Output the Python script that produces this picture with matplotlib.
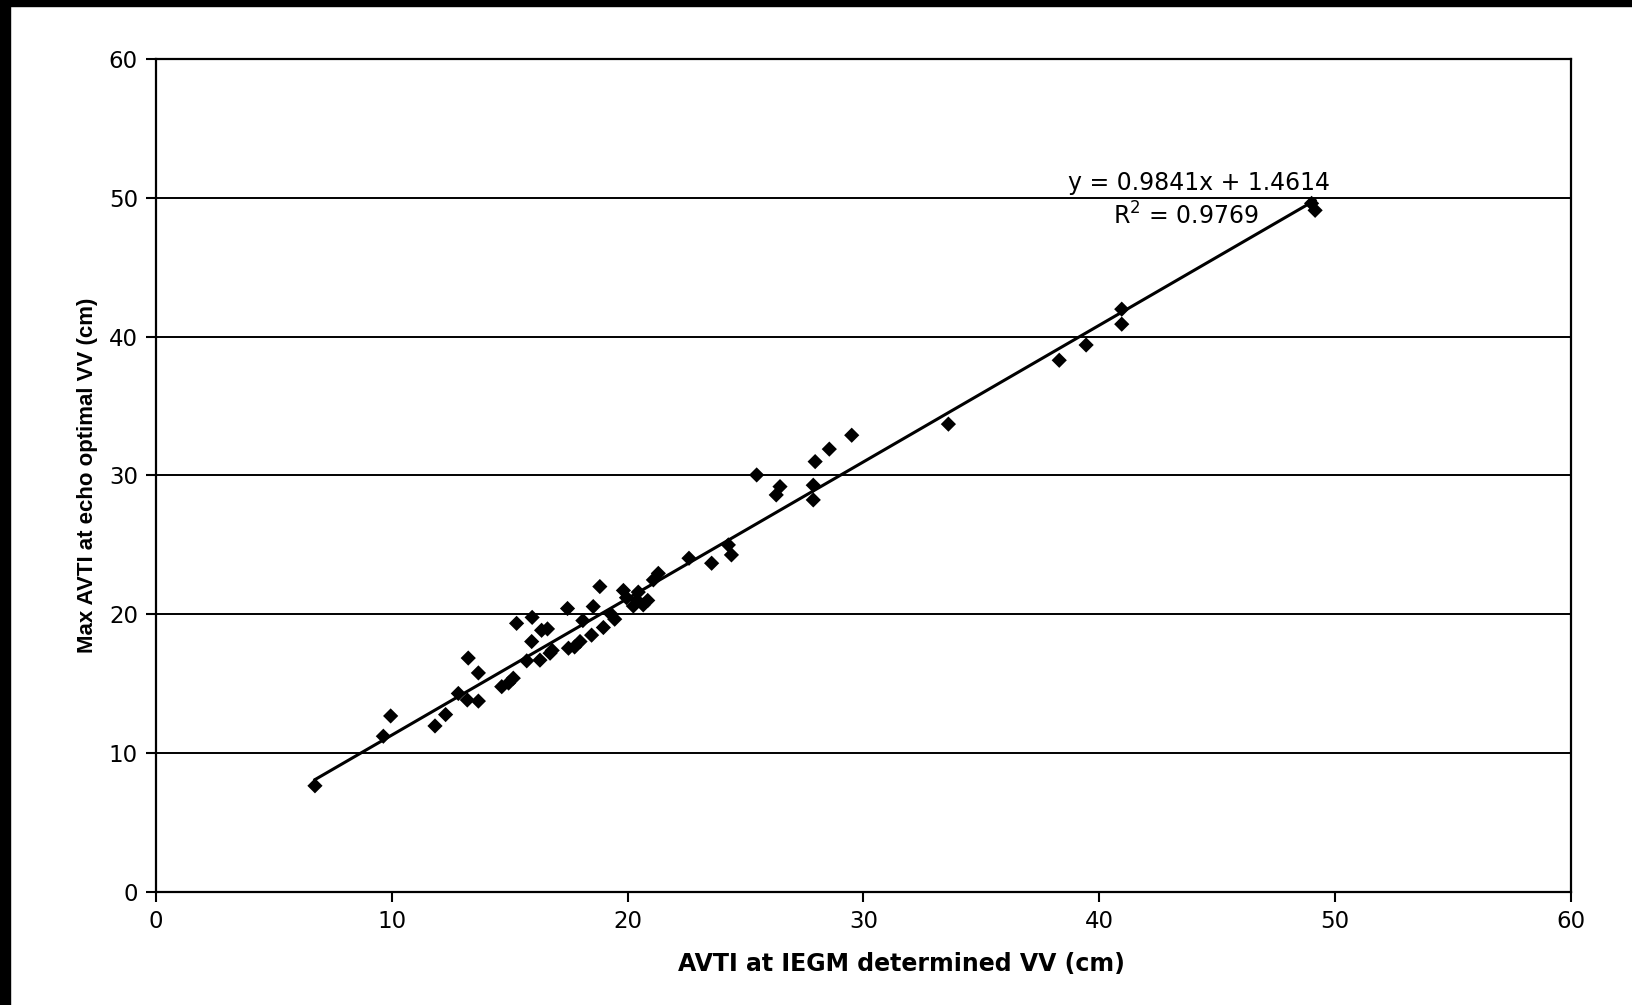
"""
AVTI scatter: IEGM determined VV vs echo optimal VV, with linear fit.
"""

import matplotlib
matplotlib.use("Agg")
import matplotlib.pyplot as plt
from matplotlib.patches import Rectangle
import numpy as np

# the source is a little stretched sideways, so the wider DejaVu Sans fits
# the horizontal texts better; the vertical label keeps the narrower face
plt.rcParams["font.family"] = ["DejaVu Sans"]

# data (cm)
avti_iegm = [
    6.74, 9.64, 9.95, 11.83, 12.28, 12.82, 13.20, 13.24, 13.67, 13.67,
    14.66, 14.95, 15.15, 15.29, 15.72, 15.93, 15.95, 16.28, 16.35, 16.60,
    16.71, 16.80, 17.45, 17.49, 17.75, 17.98, 18.10, 18.47, 18.54, 18.82,
    18.97, 19.30, 19.45, 19.82, 19.95, 20.24, 20.40, 20.45, 20.66, 20.85,
    21.09, 21.30, 22.60, 23.56, 24.27, 24.40, 25.47, 26.30, 26.46, 27.87,
    27.87, 27.95, 28.55, 29.50, 33.60, 38.30, 39.44, 40.95, 40.95, 49.00,
    49.15,
]
avti_echo = [
    7.65, 11.22, 12.68, 11.96, 12.78, 14.30, 13.83, 16.85, 15.78, 13.75,
    14.79, 15.05, 15.40, 19.35, 16.65, 18.04, 19.78, 16.70, 18.85, 18.95,
    17.20, 17.40, 20.42, 17.56, 17.65, 18.04, 19.55, 18.50, 20.56, 22.00,
    19.05, 20.00, 19.65, 21.72, 21.20, 20.60, 21.00, 21.60, 20.68, 21.00,
    22.48, 22.95, 24.04, 23.68, 25.00, 24.28, 30.04, 28.60, 29.20, 29.30,
    28.24, 31.00, 31.90, 32.90, 33.70, 38.30, 39.40, 41.98, 40.90, 49.60,
    49.10,
]

slope = 0.9841
intercept = 1.4614
r2 = 0.9769

fig = plt.figure(figsize=(16.33, 10.05), dpi=100)
fig.patch.set_facecolor("white")
# black scan borders (top and left)
fig.add_artist(Rectangle((0, 1 - 6 / 1005), 1, 6 / 1005,
                         transform=fig.transFigure, color="black", zorder=0))
fig.add_artist(Rectangle((0, 0), 10 / 1633, 1,
                         transform=fig.transFigure, color="black", zorder=0))

ax = fig.add_axes([156 / 1633, 113 / 1005, (1571 - 156) / 1633, (892 - 59) / 1005])

# horizontal grid lines
for g in [10, 20, 30, 40, 50]:
    ax.axhline(g, color="black", linewidth=1.4, zorder=1)

ax.scatter(avti_iegm, avti_echo, marker="D", s=60, color="black",
           edgecolors="none", zorder=3)

xfit = np.array([min(avti_iegm), max(avti_iegm)])
ax.plot(xfit, slope * xfit + intercept, color="black", linewidth=2.2, zorder=2)

ax.text(49.8, 51.05, f"y = {slope}x + {intercept}", fontsize=17,
        ha="right", va="center", zorder=4)
ax.text(43.66, 48.7, f"R$^2$ = {r2}", fontsize=17,
        ha="center", va="center", zorder=4)

ax.set_xlim(0, 60)
ax.set_ylim(0, 60)
ax.set_xticks(range(0, 61, 10))
ax.set_yticks(range(0, 61, 10))
ax.tick_params(direction="out", length=7, width=1.5, labelsize=16.5, pad=6,
               colors="black")
for sp in ax.spines.values():
    sp.set_linewidth(1.6)
    sp.set_color("black")

# x label sits a bit right of centre in the source
ax.set_xlabel("AVTI at IEGM determined VV (cm)", fontsize=17,
              fontweight="bold")
ax.xaxis.set_label_coords(0.527, -0.087)
ax.xaxis.label.set_verticalalignment("center")
ax.set_ylabel("Max AVTI at echo optimal VV (cm)", fontsize=16,
              fontweight="bold", labelpad=8,
              family=["Liberation Sans", "DejaVu Sans"])

fig.savefig("out.png", dpi=100)
